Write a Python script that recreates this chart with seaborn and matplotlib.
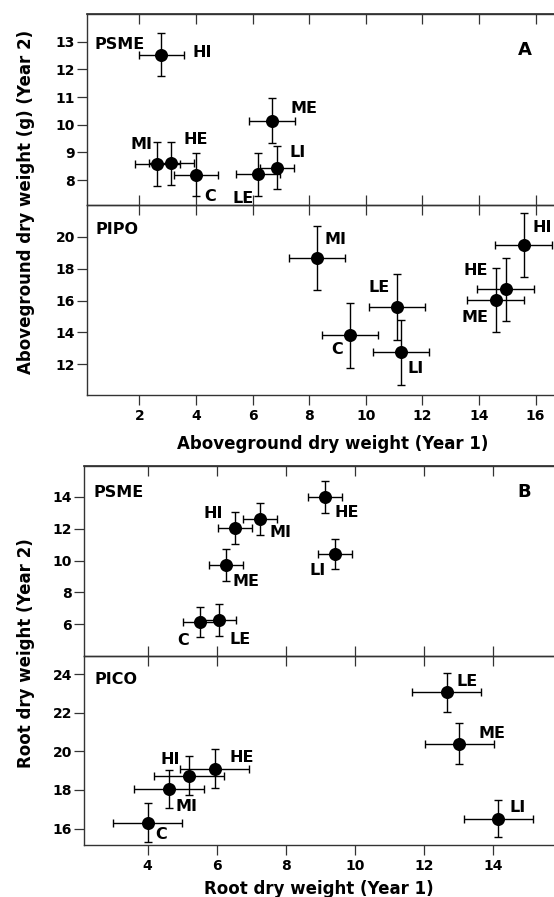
"""Year 1 vs Year 2 dry weight by treatment, two species per panel."""

import matplotlib

matplotlib.use("Agg")
import matplotlib.pyplot as plt
import pandas as pd
import seaborn as sns

# Panel A, PSME (aboveground, g)
A_PSME_LABELS = ["HI", "MI", "HE", "C", "LE", "ME", "LI"]
A_PSME_X = [2.78, 2.64, 3.13, 4.01, 6.19, 6.68, 6.86]
A_PSME_Y = [12.53, 8.58, 8.61, 8.20, 8.21, 10.15, 8.45]
A_PSME_XERR = [0.80, 0.80, 0.80, 0.78, 0.77, 0.81, 0.60]
A_PSME_YERR = [0.78, 0.78, 0.78, 0.78, 0.78, 0.80, 0.78]

# Panel A, PIPO
A_PIPO_LABELS = ["MI", "C", "LE", "LI", "HE", "ME", "HI"]
A_PIPO_X = [8.28, 9.44, 11.10, 11.24, 14.94, 14.59, 15.58]
A_PIPO_Y = [18.66, 13.82, 15.60, 12.75, 16.70, 16.05, 19.50]
A_PIPO_XERR = [1.0, 1.0, 1.0, 1.0, 1.0, 1.0, 1.0]
A_PIPO_YERR = [2.0, 2.05, 2.05, 2.05, 2.0, 2.0, 2.0]

# Panel B, PSME (root)
B_PSME_LABELS = ["HI", "MI", "ME", "C", "LE", "HE", "LI"]
B_PSME_X = [6.53, 7.25, 6.27, 5.52, 6.07, 9.14, 9.43]
B_PSME_Y = [12.05, 12.62, 9.72, 6.14, 6.26, 14.00, 10.41]
B_PSME_XERR = [0.5, 0.5, 0.5, 0.5, 0.5, 0.5, 0.5]
B_PSME_YERR = [1.0, 1.03, 1.0, 0.97, 1.0, 1.0, 0.95]

# Panel B, PICO
B_PICO_LABELS = ["C", "MI", "HI", "HE", "LE", "ME", "LI"]
B_PICO_X = [4.01, 4.62, 5.20, 5.95, 12.67, 13.02, 14.15]
B_PICO_Y = [16.30, 18.05, 18.74, 19.10, 23.06, 20.40, 16.50]
B_PICO_XERR = [1.0, 1.0, 1.0, 1.0, 1.0, 1.0, 1.0]
B_PICO_YERR = [1.0, 1.0, 1.0, 1.0, 1.0, 1.05, 0.96]

A_XTICKS = [2, 4, 6, 8, 10, 12, 14, 16]
B_XTICKS = [4, 6, 8, 10, 12, 14]

# label placement: (dx px, dy px, ha)
A_PSME_OFFSETS = {"HI": (31, 2, "left"), "MI": (-5, 20, "right"), "HE": (12, 24, "left"),
                  "C": (8, -22, "left"), "LE": (-4, -24, "right"), "ME": (19, 12, "left"),
                  "LI": (13, 15, "left")}
A_PIPO_OFFSETS = {"MI": (7, 19, "left"), "C": (-7, -14, "right"), "LE": (-7, 19, "right"),
                  "LI": (7, -16, "left"), "HE": (-18, 19, "right"), "ME": (-7, -18, "right"),
                  "HI": (9, 17, "left")}
B_PSME_OFFSETS = {"HI": (-12, 14, "right"), "MI": (10, -14, "left"), "ME": (7, -16, "left"),
                  "C": (-11, -19, "right"), "LE": (10, -19, "left"), "HE": (9, -16, "left"),
                  "LI": (-9, -16, "right")}
B_PICO_OFFSETS = {"C": (7, -12, "left"), "MI": (7, -17, "left"), "HI": (-9, 16, "right"),
                  "HE": (15, 11, "left"), "LE": (10, 11, "left"), "ME": (19, 10, "left"),
                  "LI": (11, 11, "left")}

LINE = "#333333"
LABEL_SIZE = 11.5


def build(labels, x, y, xerr, yerr):
    return pd.DataFrame({"label": labels, "x": x, "y": y, "xerr": xerr, "yerr": yerr})


def draw_points(ax, df, offsets):
    ax.errorbar(df["x"], df["y"], xerr=df["xerr"], yerr=df["yerr"], fmt="none",
                ecolor="black", elinewidth=1.0, capsize=3, capthick=1.0, zorder=2)
    sns.scatterplot(data=df, x="x", y="y", color="black", s=88, linewidth=0,
                    zorder=3, ax=ax, legend=False)
    for _, row in df.iterrows():
        dx, dy, ha = offsets[row["label"]]
        ax.annotate(row["label"], xy=(row["x"], row["y"]), xytext=(dx, dy),
                    textcoords="offset pixels", ha=ha, va="center",
                    fontsize=LABEL_SIZE, fontweight="bold", annotation_clip=False)


def style_pair(top_ax, bottom_ax, xlim, xticks):
    for ax in (top_ax, bottom_ax):
        ax.set_xlim(xlim)
        ax.set_xticks(xticks)
        ax.set_facecolor("none")
        ax.spines["right"].set_visible(False)
        for side in ("left", "top", "bottom"):
            ax.spines[side].set_color(LINE)
            ax.spines[side].set_linewidth(1.0)
        ax.tick_params(axis="y", direction="out", length=7.5, width=0.9, color=LINE,
                       labelcolor="black", labelsize=10, pad=1)
        ax.set_xlabel("")
        ax.set_ylabel("")
    top_ax.tick_params(axis="x", bottom=True, top=False, direction="inout", length=15,
                       width=0.9, color=LINE, labelbottom=False)
    sec = top_ax.secondary_xaxis("top")
    sec.set_xticks(xticks)
    sec.tick_params(direction="in", length=7.5, width=0.9, color=LINE, labeltop=False)
    sec.spines["top"].set_color(LINE)
    bottom_ax.tick_params(axis="x", direction="out", length=7.5, width=0.9, color=LINE,
                          labelcolor="black", labelsize=10, pad=3)


def main():
    sns.set_theme(style="ticks")
    plt.rcParams["font.family"] = ["DejaVu Sans"]
    plt.rcParams["font.weight"] = "bold"
    plt.rcParams["text.color"] = "black"

    fig = plt.figure(figsize=(5.54, 8.97), dpi=100)
    ax_a1 = fig.add_axes([0.1570, 0.7715, 0.8430, 0.2129])
    ax_a2 = fig.add_axes([0.1570, 0.5602, 0.8430, 0.2113])
    ax_b1 = fig.add_axes([0.1511, 0.2687, 0.8489, 0.2118])
    ax_b2 = fig.add_axes([0.1511, 0.0584, 0.8489, 0.2103])

    draw_points(ax_a1, build(A_PSME_LABELS, A_PSME_X, A_PSME_Y, A_PSME_XERR, A_PSME_YERR), A_PSME_OFFSETS)
    draw_points(ax_a2, build(A_PIPO_LABELS, A_PIPO_X, A_PIPO_Y, A_PIPO_XERR, A_PIPO_YERR), A_PIPO_OFFSETS)
    draw_points(ax_b1, build(B_PSME_LABELS, B_PSME_X, B_PSME_Y, B_PSME_XERR, B_PSME_YERR), B_PSME_OFFSETS)
    draw_points(ax_b2, build(B_PICO_LABELS, B_PICO_X, B_PICO_Y, B_PICO_XERR, B_PICO_YERR), B_PICO_OFFSETS)

    style_pair(ax_a1, ax_a2, (0.15, 16.65), A_XTICKS)
    style_pair(ax_b1, ax_b2, (2.15, 15.77), B_XTICKS)

    ax_a1.set_ylim(7.1, 14.0)
    ax_a1.set_yticks([8, 9, 10, 11, 12, 13])
    ax_a2.set_ylim(10.1, 22.0)
    ax_a2.set_yticks([12, 14, 16, 18, 20])
    ax_b1.set_ylim(4.0, 15.95)
    ax_b1.set_yticks([6, 8, 10, 12, 14])
    ax_b2.set_ylim(15.17, 24.94)
    ax_b2.set_yticks([16, 18, 20, 22, 24])

    name_kw = dict(fontsize=LABEL_SIZE, fontweight="bold", ha="left", va="center")
    ax_a1.text(0.017, 0.838, "PSME", transform=ax_a1.transAxes, **name_kw)
    ax_a2.text(0.019, 0.868, "PIPO", transform=ax_a2.transAxes, **name_kw)
    ax_b1.text(0.021, 0.858, "PSME", transform=ax_b1.transAxes, **name_kw)
    ax_b2.text(0.023, 0.873, "PICO", transform=ax_b2.transAxes, **name_kw)
    ax_a1.text(0.938, 0.81, "A", transform=ax_a1.transAxes, fontsize=13,
               fontweight="bold", ha="center", va="center")
    ax_b1.text(0.936, 0.863, "B", transform=ax_b1.transAxes, fontsize=13,
               fontweight="bold", ha="center", va="center")

    label_kw = dict(fontsize=12, fontweight="bold", ha="center", va="center")
    fig.text(0.600, 1 - 444 / 897, "Aboveground dry weight (Year 1)", **label_kw)
    fig.text(0.576, 1 - 889 / 897, "Root dry weight (Year 1)", **label_kw)
    fig.text(26 / 554, 1 - 202 / 897, "Aboveground dry weight (g) (Year 2)", rotation=90, **label_kw)
    fig.text(26 / 554, 1 - 653 / 897, "Root dry weight (Year 2)", rotation=90, **label_kw)

    fig.savefig("out.png", dpi=100, facecolor="white")
    plt.close(fig)


if __name__ == "__main__":
    main()
